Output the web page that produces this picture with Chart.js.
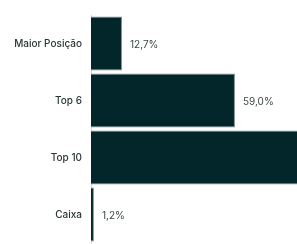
<!DOCTYPE html>
<html>
<head>
<meta charset="utf-8">
<script src="https://cdn.jsdelivr.net/npm/chart.js@4"></script>
<style>
  html, body { margin: 0; padding: 0; background: #fff; overflow: hidden; }
  #wrap { width: 297px; height: 244px; overflow: hidden; }
</style>
</head>
<body>
<div id="wrap"><canvas id="chart" width="400" height="258"></canvas></div>
<script>
// Concentração da carteira
const categories = ['Maior Posição', 'Top 6', 'Top 10', 'Caixa'];
const values = [12.7, 59.0, 85.8, 1.2];

// draws the value next to each bar, pt-BR style
const valueLabels = {
  id: 'valueLabels',
  afterDatasetsDraw(chart) {
    const ctx = chart.ctx;
    const meta = chart.getDatasetMeta(0);
    ctx.save();
    ctx.font = '10px Inter';
    ctx.fillStyle = '#3b4848';
    ctx.textAlign = 'left';
    ctx.textBaseline = 'middle';
    meta.data.forEach((bar, i) => {
      const txt = values[i].toFixed(1).replace('.', ',') + '%';
      ctx.fillText(txt, bar.x + 8, bar.y + 1);
    });
    ctx.restore();
  }
};

new Chart(document.getElementById('chart').getContext('2d'), {
  type: 'bar',
  data: {
    labels: categories,
    datasets: [{
      data: values,
      backgroundColor: '#02262a',
      borderColor: '#7d8f90',
      borderWidth: 1,
      barPercentage: 0.95,
      categoryPercentage: 1
    }]
  },
  options: {
    indexAxis: 'y',
    responsive: false,
    animation: false,
    layout: { padding: { top: 13.5, bottom: 4.5, right: 65, left: 0 } },
    plugins: {
      legend: { display: false },
      tooltip: { enabled: false }
    },
    scales: {
      x: { display: false, min: 0, max: 100 },
      y: {
        afterFit: (s) => { s.width = 91; },
        grid: { display: false, drawTicks: false },
        border: { display: true, color: '#d4d8d8', width: 1 },
        ticks: {
          color: '#2a3636',
          padding: 9,
          font: { family: 'Inter', size: 10, weight: '500' }
        }
      }
    }
  },
  plugins: [valueLabels]
});
</script>
</body>
</html>
